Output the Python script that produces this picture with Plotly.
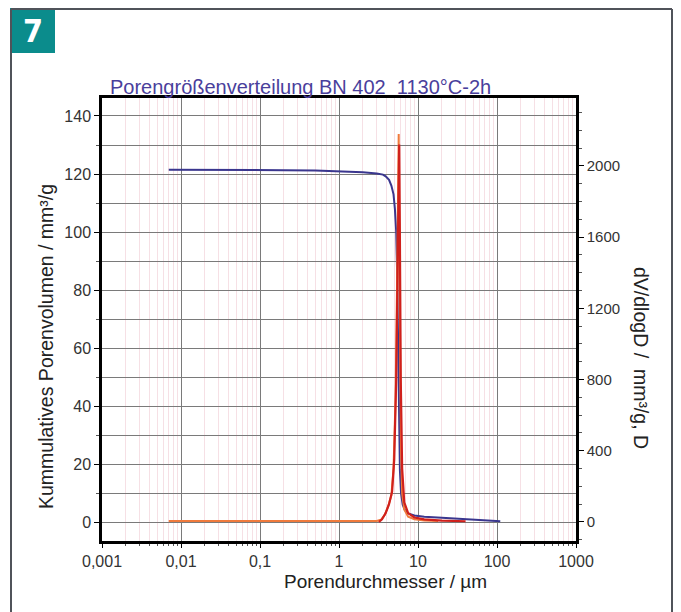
import plotly.graph_objects as go

# ---- data ----
cum_x = [0.007, 0.02, 0.05, 0.2, 0.5, 1.0, 2.0, 3.0, 3.6, 3.9, 4.3, 4.6, 4.9, 5.1, 5.3,
         5.45, 5.6, 5.75, 5.9, 6.1, 6.4, 6.8, 7.5, 9.0, 12, 20, 40, 70, 110]
cum_y = [121.5, 121.5, 121.4, 121.3, 121.2, 121.0, 120.6, 120.2, 119.8, 119.2, 118.0,
         116.0, 113.0, 108.0, 100.0, 85.0, 60.0, 35.0, 18.0, 10.0, 6.0, 4.2, 3.0, 2.3,
         1.9, 1.5, 1.0, 0.6, 0.3]

dv1_x = [0.007, 0.05, 0.5, 1.0, 2.0, 3.0, 3.4, 3.8, 4.2, 4.6, 4.9, 5.2, 5.45, 5.6, 5.7,
         5.8, 5.95, 6.1, 6.3, 6.7, 7.5, 9.0, 12, 18]
dv1_y = [5, 5, 5, 5, 5, 5, 12, 40, 90, 150, 300, 700, 1400, 1900, 2180,
         1500, 800, 400, 160, 70, 30, 15, 8, 5]

dv2_x = [3.2, 3.5, 3.9, 4.3, 4.7, 5.0, 5.3, 5.5, 5.65, 5.78, 5.9, 6.05, 6.3, 6.7,
         7.5, 9.0, 12, 20, 40]
dv2_y = [0, 15, 50, 100, 170, 350, 800, 1500, 1950, 2120, 1600, 800, 300, 110,
         50, 25, 15, 8, 4]

x_tickvals = [0.001, 0.01, 0.1, 1, 10, 100, 1000]
x_ticktext = ["0,001", "0,01", "0,1", "1", "10", "100", "1000"]
y_tickvals = [0, 20, 40, 60, 80, 100, 120, 140]
y2_tickvals = [0, 400, 800, 1200, 1600, 2000]

title_text = "Porengrößenverteilung BN 402  1130°C-2h"
x_title = "Porendurchmesser / µm"
y_title = "Kummulatives Porenvolumen / mm³/g"
y2_title = "dV/dlogD /  mm³/g, D"
badge = "7"

# ---- layout geometry (pixels) ----
W, H = 681, 612
L, R, T, B = 102, 576, 98, 541
pw, ph = R - L, B - T


def px(x):
    return (x - L) / pw


def py(y):
    return (B - y) / ph


FONT = "Liberation Sans, Arial, sans-serif"
GRID = "#7a7a7a"
MINOR = "#f6e0e5"

fig = go.Figure()
fig.add_trace(go.Scatter(x=dv1_x, y=dv1_y, yaxis="y2", mode="lines",
                         line=dict(color="#f07a3c", width=2), showlegend=False))
fig.add_trace(go.Scatter(x=dv2_x, y=dv2_y, yaxis="y2", mode="lines",
                         line=dict(color="#d0201c", width=2.2), showlegend=False))
fig.add_trace(go.Scatter(x=cum_x, y=cum_y, mode="lines",
                         line=dict(color="#3a368e", width=2), showlegend=False))

fig.update_layout(
    width=W, height=H,
    margin=dict(l=L, r=W - R, t=T, b=H - B, pad=0),
    paper_bgcolor="white", plot_bgcolor="white",
    font=dict(family=FONT, size=15, color="#333333"),
    xaxis=dict(type="log", range=[-3, 3], tickvals=x_tickvals, ticktext=x_ticktext,
               showgrid=True, gridcolor=GRID, gridwidth=1.4,
               showline=True, linecolor="black", linewidth=2.5, mirror=True,
               ticks="outside", ticklen=4, tickcolor="black", zeroline=False,
               tickfont=dict(size=16, color="#333333"),
               minor=dict(dtick="D1", showgrid=True, gridcolor=MINOR, gridwidth=1,
                          ticks="outside", ticklen=2, tickcolor="#555")),
    yaxis=dict(range=[-6.5, 146.2], tickvals=y_tickvals,
               showgrid=True, gridcolor=GRID, gridwidth=1.4, zeroline=False,
               showline=True, linecolor="black", linewidth=2.5,
               ticks="outside", ticklen=5, tickcolor="black",
               tickfont=dict(size=16, color="#333333"),
               minor=dict(dtick=10, showgrid=True, gridcolor=GRID, gridwidth=1.4,
                          ticks="outside", ticklen=3, tickcolor="#555")),
    yaxis2=dict(range=[-107, 2382], tickvals=y2_tickvals, overlaying="y", side="right",
                showgrid=False, zeroline=False,
                showline=True, linecolor="black", linewidth=2.5,
                ticks="outside", ticklen=5, tickcolor="black",
                tickfont=dict(size=15, color="#333333"),
                minor=dict(dtick=100, ticks="outside", ticklen=3, tickcolor="#555")),
)

ann = [
    dict(text=title_text, x=px(108), y=py(87), xanchor="left", yanchor="middle",
         font=dict(size=20, color="#4a3f9c")),
    dict(text=x_title, x=px(385), y=py(581), xanchor="center", yanchor="middle",
         font=dict(size=19, color="#222222")),
    dict(text=y_title, x=px(46), y=py(347), xanchor="center", yanchor="middle",
         textangle=-90, font=dict(size=19.5, color="#222222")),
    dict(text=y2_title, x=px(641), y=py(358), xanchor="center", yanchor="middle",
         textangle=90, font=dict(size=19.5, color="#222222")),
    dict(text="<b>" + badge + "</b>", x=px(32.5), y=py(31), xanchor="center",
         yanchor="middle", font=dict(size=32, color="white",
                                     family="DejaVu Sans Condensed, Liberation Sans Narrow, Liberation Sans, Arial")),
]
for a in ann:
    a.update(xref="paper", yref="paper", showarrow=False)
fig.update_layout(annotations=ann)

shapes = [
    dict(type="line", x0=px(11), x1=px(11), y0=py(9), y1=py(612),
         line=dict(color="#50535a", width=2)),
    dict(type="line", x0=px(11), x1=px(672), y0=py(9), y1=py(9),
         line=dict(color="#50535a", width=2)),
    dict(type="line", x0=px(672), x1=px(672), y0=py(9), y1=py(612),
         line=dict(color="#50535a", width=2)),
    dict(type="rect", x0=px(10), x1=px(55), y0=py(8), y1=py(53),
         fillcolor="#0b8c8c", line=dict(width=0), layer="below"),
]
for s in shapes:
    s.update(xref="paper", yref="paper")
fig.update_layout(shapes=shapes)

fig.write_html("out.html")
